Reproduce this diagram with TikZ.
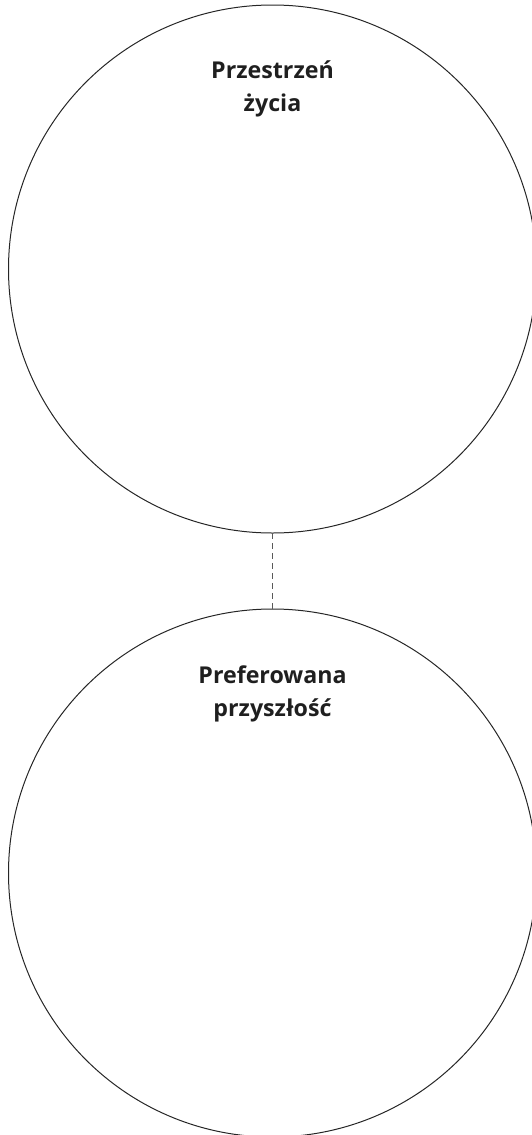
\documentclass[tikz,border=0pt]{standalone}
\usepackage{fontspec}
\setmainfont{Open Sans}
\begin{document}
\begin{tikzpicture}[x=1pt,y=1pt,
  ring/.style={circle, draw=black!85, line width=1pt, inner sep=0pt, outer sep=0pt, minimum size=528pt},
  title/.style={font=\bfseries\fontsize{23.2}{33}\selectfont, text=black!88, align=center, inner sep=0pt},
  link/.style={draw=black!65, line width=1.1pt, dash pattern=on 6pt off 4pt}]
\useasboundingbox (0,0) rectangle (532,-1135);
\node[ring] (life) at (272.5,-269) {};
\node[ring] (future) at (272.5,-873) {};
\node[title, anchor=north] (lifet) at (272.5,-61) {Przestrzeń\\życia};
\node[title, anchor=north] (futuret) at (272.5,-666) {Preferowana\\przyszłość};
\draw[link] (life.south) -- (future.north);
\end{tikzpicture}
\end{document}
